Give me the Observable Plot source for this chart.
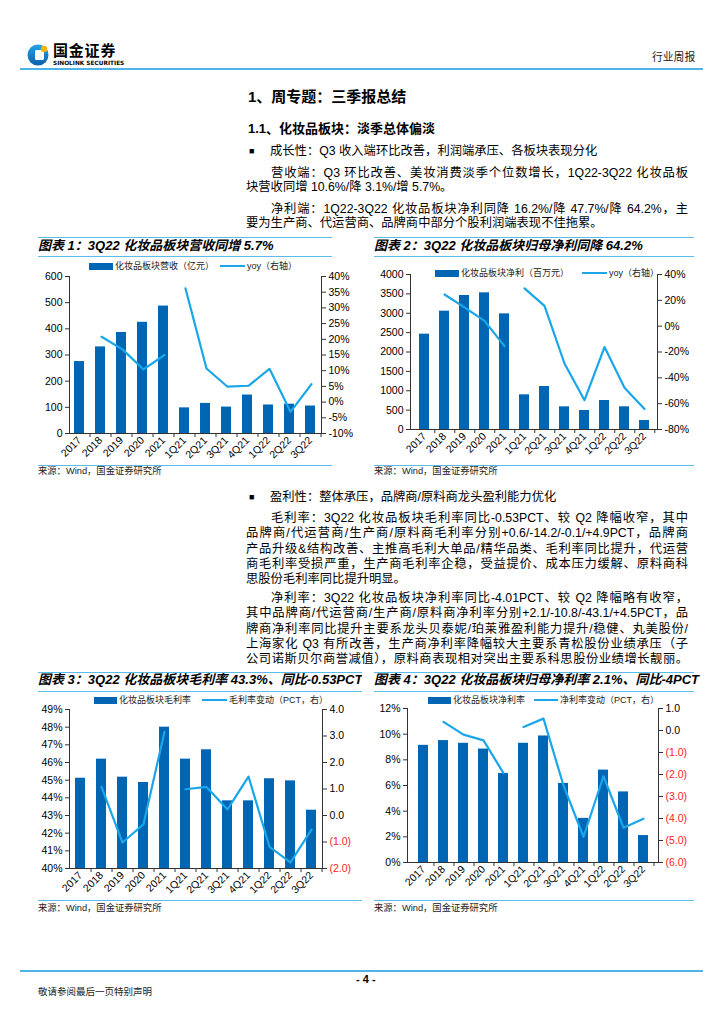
<!DOCTYPE html>
<html>
<head>
<meta charset="utf-8">
<script src="https://cdn.jsdelivr.net/npm/d3@7"></script>
<script src="https://cdn.jsdelivr.net/npm/@observablehq/plot@0.6"></script>
<style>
  html, body { margin: 0; padding: 0; background: #fff; }
  #page { position: relative; width: 724px; height: 1024px; overflow: hidden; background: #fff;
    font-family: "Liberation Sans", Arial, "Noto Sans CJK SC", sans-serif; color: #000; }
  .abs { position: absolute; white-space: nowrap; }
  .hline { position: absolute; height: 0; border-top: 2px solid #4db4e8; }
  .tline { position: absolute; height: 0; border-top: 1.5px solid #5bbbe9; }
  .body { position: absolute; font-size: 12.3px; line-height: 15px; white-space: nowrap; }
  .just { text-align: justify; text-align-last: justify; white-space: normal; }
  .title { position: absolute; font-size: 13px; font-weight: bold; font-style: italic; white-space: nowrap; overflow: hidden; line-height: 16px; }
  .src { position: absolute; font-size: 9.3px; line-height: 12px; color: #222; white-space: nowrap; }
  .leg { position: absolute; font-size: 9px; line-height: 12px; white-space: nowrap; color: #222; }
  .sw-bar { position: absolute; height: 7px; background: #0066b3; }
  .sw-line { position: absolute; height: 2px; background: #1aa6ea; }
  .chart { position: absolute; }
  .chart svg { position: absolute; left: 0; top: 0; }
</style>
</head>
<body>
<div id="page"></div>
<script>
// ---------------- data ----------------
const categories = ["2017","2018","2019","2020","2021","1Q21","2Q21","3Q21","4Q21","1Q22","2Q22","3Q22"];
const revenue      = [275, 331, 386, 425, 487, 98, 115, 101, 147, 109, 112, 105];           // 亿元
const revenueYoy   = [null, 20.8, 16.8, 10.4, 15.0, 36.2, 10.7, 4.9, 5.2, 10.6, -3.1, 5.7];   // %
const netProfit    = [2460, 3054, 3458, 3527, 2985, 895, 1110, 585, 490, 748, 585, 232];    // 百万元
const netProfitYoy = [null, 24.5, 14.5, 4.1, -15.5, 29.2, 15.7, -28.9, -57.3, -16.2, -47.7, -64.2];
const grossMargin  = [45.11, 46.19, 45.17, 44.87, 48.0, 46.19, 46.72, 43.83, 43.83, 45.08, 44.96, 43.3];
const grossChg     = [null, 1.08, -1.02, -0.33, 3.16, 0.99, 1.08, 0.23, 1.47, -1.18, -1.77, -0.53];
const netMargin    = [9.13, 9.5, 9.29, 8.84, 6.94, 9.29, 9.86, 6.16, 3.44, 7.2, 5.5, 2.1];
const netChg       = [null, 0.39, -0.19, -0.45, -1.94, 0.16, 0.54, -2.5, -4.83, -2.08, -4.42, -4.01];

const ticks1L = [0, 100, 200, 300, 400, 500, 600];
const ticks1R = [-10, -5, 0, 5, 10, 15, 20, 25, 30, 35, 40];
const ticks2L = [0, 500, 1000, 1500, 2000, 2500, 3000, 3500, 4000];
const ticks2R = [-80, -60, -40, -20, 0, 20, 40];
const ticks3L = [40, 41, 42, 43, 44, 45, 46, 47, 48, 49];
const ticks3R = [-2, -1, 0, 1, 2, 3, 4];
const ticks4L = [0, 2, 4, 6, 8, 10, 12];
const ticks4R = [-6, -5, -4, -3, -2, -1, 0, 1];

const BAR = "#0066b3";
const LINE = "#1aa6ea";
const AX = "#333";

const page = document.getElementById("page");
function add(html) { page.insertAdjacentHTML("beforeend", html); }

// ---------------- header ----------------
add(`<svg class="abs" style="left:27px;top:43px" width="24" height="24" viewBox="0 0 24 24">
  <defs><linearGradient id="lg" x1="0" y1="0" x2="0" y2="1"><stop offset="0" stop-color="#2aa3e6"/><stop offset="1" stop-color="#0a5fae"/></linearGradient></defs>
  <circle cx="11" cy="12" r="10.5" fill="url(#lg)"/>
  <rect x="8" y="7" width="9" height="10" rx="1.5" fill="#fff"/>
  <circle cx="17" cy="6" r="3.2" fill="#f4b400"/>
</svg>`);
add(`<div class="abs" style="left:53px;top:42px;font-size:15px;font-weight:bold;line-height:16px;font-family:'Noto Sans CJK SC';letter-spacing:0.8px">国金证券</div>`);
add(`<div class="abs" style="left:53px;top:60px;font-size:5.8px;font-weight:bold;line-height:7px;font-family:'DejaVu Sans'">SINOLINK SECURITIES</div>`);
add(`<div class="abs" style="left:652px;top:50px;font-size:10.8px;line-height:14px;color:#222">行业周报</div>`);
add(`<div class="hline" style="left:20px;top:68px;width:683px"></div>`);

// ---------------- text ----------------
add(`<div class="abs" style="left:248px;top:88px;font-size:15px;font-weight:bold;line-height:18px">1、周专题：三季报总结</div>`);
add(`<div class="abs" style="left:248px;top:121px;font-size:13px;font-weight:bold;line-height:16px">1.1、化妆品板块：淡季总体偏淡</div>`);

function bullet(y, txt) {
  add(`<div class="abs" style="left:249px;top:${y-6}px;font-size:9px;line-height:12px">■</div>`);
  add(`<div class="body" style="left:270px;top:${y-7.5}px">${txt}</div>`);
}
function line(y, x, txt, justify) {
  const w = 688 - x;
  add(`<div class="body ${justify ? "just" : ""}" style="left:${x}px;top:${y-7.5}px;width:${w}px">${txt}</div>`);
}
bullet(151, "成长性：Q3 收入端环比改善，利润端承压、各板块表现分化");
line(173, 271, "营收端：Q3 环比改善、美妆消费淡季个位数增长，1Q22-3Q22 化妆品板", true);
line(187, 246, "块营收同增 10.6%/降 3.1%/增 5.7%。", false);
line(209, 271, "净利端：1Q22-3Q22 化妆品板块净利同降 16.2%/降 47.7%/降 64.2%，主", true);
line(223, 246, "要为生产商、代运营商、品牌商中部分个股利润端表现不佳拖累。", false);

bullet(497, "盈利性：整体承压，品牌商/原料商龙头盈利能力优化");
line(518, 271, "毛利率：3Q22 化妆品板块毛利率同比-0.53PCT、较 Q2 降幅收窄，其中", true);
line(533.5, 246, "品牌商/代运营商/生产商/原料商毛利率分别+0.6/-14.2/-0.1/+4.9PCT，品牌商", true);
line(549, 246, "产品升级&amp;结构改善、主推高毛利大单品/精华品类、毛利率同比提升，代运营", true);
line(564, 246, "商毛利率受损严重，生产商毛利率企稳，受益提价、成本压力缓解、原料商科", true);
line(579, 246, "思股份毛利率同比提升明显。", false);
line(598, 271, "净利率：3Q22 化妆品板块净利率同比-4.01PCT、较 Q2 降幅略有收窄，", true);
line(613.5, 246, "其中品牌商/代运营商/生产商/原料商净利率分别+2.1/-10.8/-43.1/+4.5PCT，品", true);
line(629, 246, "牌商净利率同比提升主要系龙头贝泰妮/珀莱雅盈利能力提升/稳健、丸美股份/", true);
line(644, 246, "上海家化 Q3 有所改善，生产商净利率降幅较大主要系青松股份业绩承压（子", true);
line(659.5, 246, "公司诺斯贝尔商誉减值），原料商表现相对突出主要系科思股份业绩增长靓丽。", true);

// ---------------- chart frames (titles, lines, sources, legends) ----------------
function frame({x, w, tTop, tBot, titleY, title, titleW, srcLine, srcY}) {
  add(`<div class="tline" style="left:${x}px;top:${tTop}px;width:${w}px"></div>`);
  add(`<div class="tline" style="left:${x}px;top:${tBot}px;width:${w}px"></div>`);
  add(`<div class="title" style="left:${x}px;top:${titleY-8}px;width:${titleW}px">${title}</div>`);
  add(`<div class="tline" style="left:${x}px;top:${srcLine}px;width:${w}px"></div>`);
  add(`<div class="src" style="left:${x}px;top:${srcY-6}px">来源：Wind，国金证券研究所</div>`);
}
frame({x:38, w:294, tTop:237, tBot:256, titleY:246, titleW:320, title:"图表 1：3Q22 化妆品板块营收同增 5.7%", srcLine:465, srcY:471});
frame({x:374, w:320, tTop:237, tBot:256, titleY:246, titleW:340, title:"图表 2：3Q22 化妆品板块归母净利同降 64.2%", srcLine:465, srcY:471});
frame({x:38, w:324, tTop:672, tBot:691, titleY:680, titleW:324, title:"图表 3：3Q22 化妆品板块毛利率 43.3%、同比-0.53PCT", srcLine:900, srcY:908});
frame({x:374, w:320, tTop:672, tBot:691, titleY:680, titleW:345, title:"图表 4：3Q22 化妆品板块归母净利率 2.1%、同比-4PCT", srcLine:900, srcY:908});

function legend(y, bx, bw, btxt, lx, lw, ltxt) {
  add(`<div class="sw-bar" style="left:${bx}px;top:${y-3.5}px;width:${bw}px"></div>`);
  add(`<div class="leg" style="left:${bx+bw+2}px;top:${y-6}px">${btxt}</div>`);
  add(`<div class="sw-line" style="left:${lx}px;top:${y-1}px;width:${lw}px"></div>`);
  add(`<div class="leg" style="left:${lx+lw+2}px;top:${y-6}px">${ltxt}</div>`);
}

// ---------------- charts ----------------
function dualChart(cfg) {
  const {left, top, width, height, mt, mr, mb, ml, bars, lineVals,
         yDom, yTicks, yFmt, y2Dom, y2Ticks, y2Fmt, redNeg} = cfg;
  const rows = categories.map((c, i) => ({cat: c, bar: bars[i], val: lineVals[i], period: c.includes("Q") ? "季度" : "年度"}));
  const step = (width - ml - mr) / categories.length;
  const common = {
    width, height, marginTop: mt, marginRight: mr, marginBottom: mb, marginLeft: ml,
    style: {fontFamily: "'Liberation Sans', Arial, 'Noto Sans CJK SC'", fontSize: "10.5px", color: "#000", background: "transparent", overflow: "visible"}
  };
  const p1 = Plot.plot({
    ...common,
    x: {type: "band", domain: categories, paddingInner: 0.52, paddingOuter: 0.26, label: null},
    y: {domain: yDom, label: null},
    marks: [
      Plot.barY(rows, {x: "cat", y1: () => yDom[0], y2: "bar", fill: BAR}),
      Plot.axisY({anchor: "left", ticks: yTicks, tickFormat: yFmt, tickSize: 4, tickPadding: 3, label: null, stroke: AX}),
      Plot.axisX({tickSize: 0, tickPadding: 5, tickRotate: -45, label: null}),
      Plot.axisX({tickSize: 4, tickFormat: () => "", dx: step / 2, label: null, stroke: AX}),
      Plot.frame({anchor: "left", stroke: AX}),
      Plot.frame({anchor: "bottom", stroke: AX})
    ]
  });
  const posT = redNeg ? y2Ticks.filter(d => d >= 0) : y2Ticks;
  const negT = redNeg ? y2Ticks.filter(d => d < 0) : [];
  const marks2 = [
    Plot.line(rows, {x: "cat", y: "val", z: "period", stroke: LINE, strokeWidth: 2.2}),
    Plot.axisY({anchor: "right", ticks: posT, tickFormat: y2Fmt, tickSize: 4, tickPadding: 3, label: null, stroke: AX}),
    Plot.frame({anchor: "right", stroke: AX})
  ];
  if (negT.length) marks2.push(Plot.axisY({anchor: "right", ticks: negT, tickFormat: y2Fmt, tickSize: 4, tickPadding: 3, label: null, stroke: AX, fill: "#ff2020"}));
  const p2 = Plot.plot({
    ...common,
    x: {type: "point", domain: categories, padding: 0.5, label: null, axis: null},
    y: {domain: y2Dom, label: null},
    marks: marks2
  });
  const div = document.createElement("div");
  div.className = "chart";
  div.style.cssText = `left:${left}px;top:${top}px;width:${width}px;height:${height}px`;
  div.append(p1, p2);
  page.append(div);
}

const pct = d => `${d}%`;
const paren = d => d < 0 ? `(${Math.abs(d).toFixed(1)})` : d.toFixed(1);

dualChart({left: 38, top: 258, width: 324, height: 207, mt: 18, mr: 41, mb: 32, ml: 31,
  bars: revenue, lineVals: revenueYoy, yDom: [0, 600], yTicks: ticks1L, yFmt: d => `${d}`,
  y2Dom: [-10, 40], y2Ticks: ticks1R, y2Fmt: pct});
dualChart({left: 372, top: 258, width: 328, height: 207, mt: 16, mr: 43, mb: 36, ml: 38,
  bars: netProfit, lineVals: netProfitYoy, yDom: [0, 4000], yTicks: ticks2L, yFmt: d => `${d}`,
  y2Dom: [-80, 40], y2Ticks: ticks2R, y2Fmt: pct});
dualChart({left: 38, top: 692, width: 324, height: 208, mt: 17, mr: 40, mb: 32, ml: 31,
  bars: grossMargin, lineVals: grossChg, yDom: [40, 49], yTicks: ticks3L, yFmt: pct,
  y2Dom: [-2, 4], y2Ticks: ticks3R, y2Fmt: paren, redNeg: true});
dualChart({left: 372, top: 692, width: 328, height: 208, mt: 16, mr: 42, mb: 38, ml: 35,
  bars: netMargin, lineVals: netChg, yDom: [0, 12], yTicks: ticks4L, yFmt: pct,
  y2Dom: [-6, 1], y2Ticks: ticks4R, y2Fmt: paren, redNeg: true});

legend(266, 89, 24, "化妆品板块营收（亿元）", 220, 25, "yoy（右轴）");
legend(273, 435, 24, "化妆品板块净利（百万元）", 582, 25, "yoy（右轴）");
legend(700, 94, 23, "化妆品板块毛利率", 202, 25, "毛利率变动（PCT，右）");
legend(700, 428, 23, "化妆品板块净利率", 534, 24, "净利率变动（PCT，右）");

// ---------------- footer ----------------
add(`<div class="hline" style="left:20px;top:970px;width:683px"></div>`);
add(`<div class="abs" style="left:356px;top:973px;font-size:11px;font-weight:bold;line-height:13px">- 4 -</div>`);
add(`<div class="abs" style="left:38px;top:986px;font-size:9.5px;line-height:12px;color:#222">敬请参阅最后一页特别声明</div>`);
</script>
</body>
</html>
